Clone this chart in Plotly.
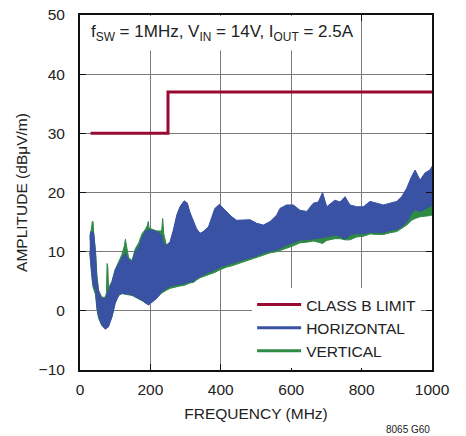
import plotly.graph_objects as go

# ---------------- data ----------------
limit_freq = [30, 250, 250, 1000]
limit_db = [30, 30, 37, 37]

horiz_freq = [28, 30, 34, 37, 39, 44, 48, 53, 62, 72, 81, 91, 100, 110, 119, 129, 138, 148, 157, 167,
              176, 186, 195, 218, 232, 237, 246, 256, 265, 275, 284, 296, 305, 312, 322, 331, 341, 350,
              365, 374, 383, 396, 407, 417, 431, 445, 464, 483, 502, 521, 540, 559, 568, 587, 606, 625,
              644, 663, 677, 689, 701, 724, 739, 753, 767, 786, 805, 824, 843, 862, 881, 900, 914, 928,
              942, 952, 966, 980, 994, 1000]
horiz_upper = [12.5, 13.4, 13.1, 13.4, 13.1, 9.7, 5.2, 3.0, 2.1, 2.1, 3.5, 4.9, 6.9, 8.0, 8.9, 9.7, 8.6,
               8.3, 10.0, 10.8, 12.3, 13.5, 13.7, 13.4, 12.8, 11.4, 11.1, 11.7, 13.6, 16.2, 17.6, 18.6,
               18.2, 16.7, 15.3, 13.9, 13.1, 13.4, 14.2, 15.6, 17.3, 18.0, 17.3, 16.7, 15.9, 15.3, 15.4,
               15.4, 14.8, 14.5, 15.1, 16.2, 17.3, 17.9, 17.9, 17.0, 16.8, 18.2, 18.4, 20.0, 17.6, 18.7,
               18.4, 19.3, 17.9, 17.6, 17.6, 18.5, 18.2, 17.9, 18.2, 18.5, 19.3, 20.7, 22.7, 23.8, 22.1,
               23.3, 23.8, 24.4]
horiz_lower = [10.0, 8.6, 5.8, 4.5, 4.1, 3.5, 0.7, -1.0, -2.4, -3.1, -2.7, -1.0, 1.3, 2.7, 3.0, 2.9, 2.8,
               2.7, 2.5, 2.1, 1.8, 1.3, 1.0, 2.1, 3.2, 3.5, 3.8, 4.1, 4.3, 4.4, 4.5, 4.6, 4.8, 4.9, 5.0,
               5.5, 5.9, 6.1, 6.5, 6.7, 6.9, 7.3, 7.6, 7.8, 8.0, 8.3, 8.7, 9.0, 9.3, 9.8, 10.1, 10.3,
               10.6, 11.1, 11.6, 12.0, 12.0, 12.2, 12.3, 12.4, 12.5, 12.8, 12.6, 12.1, 12.8, 13.1, 13.0,
               13.3, 13.2, 13.2, 13.6, 13.8, 14.2, 15.0, 16.5, 17.1, 16.8, 17.2, 17.6, 17.8]

vert_freq = [28, 30, 33, 35, 37, 39, 44, 48, 53, 62, 72, 75, 77, 79, 81, 91, 100, 110, 119, 126, 129, 132,
             138, 148, 157, 167, 176, 186, 192, 194, 196, 218, 232, 235, 238, 246, 256, 265, 275, 284,
             296, 305, 312, 322, 331, 341, 350, 365, 374, 383, 396, 407, 417, 431, 445, 464, 483, 502,
             521, 540, 559, 568, 587, 606, 625, 644, 663, 677, 689, 701, 724, 739, 753, 767, 786, 805,
             824, 843, 862, 881, 900, 914, 928, 942, 952, 966, 980, 994, 1000]
vert_upper = [12.0, 13.0, 14.5, 15.1, 15.1, 13.0, 10.2, 6.0, 3.5, 2.3, 2.3, 3.0, 8.0, 7.5, 3.8, 5.0, 7.0,
              8.2, 9.5, 11.0, 12.1, 11.0, 9.0, 8.5, 10.5, 11.5, 13.0, 13.8, 14.5, 15.1, 14.0, 13.5, 13.5,
              15.6, 13.0, 11.0, 11.5, 13.3, 15.8, 17.2, 18.2, 17.8, 16.4, 14.5, 13.3, 12.8, 13.0, 13.9,
              15.2, 17.0, 17.6, 17.0, 16.4, 15.6, 15.0, 15.0, 15.0, 14.5, 14.2, 14.8, 15.8, 16.8, 17.4,
              17.4, 16.6, 16.4, 17.6, 17.8, 18.8, 17.2, 18.2, 18.0, 18.6, 17.5, 17.2, 17.2, 17.8, 17.6,
              17.4, 17.6, 17.8, 18.2, 18.5, 18.8, 19.0, 18.6, 18.8, 19.2, 19.5]
vert_lower = [9.8, 8.2, 6.0, 5.0, 4.0, 3.6, 2.8, 0.3, -1.3, -2.5, -3.0, -2.9, -2.8, -2.8, -2.6, -0.9, 1.4,
              2.6, 2.9, 2.8, 2.8, 2.8, 2.7, 2.6, 2.4, 2.0, 1.7, 1.4, 1.2, 1.2, 1.2, 2.2, 3.0, 3.1, 3.2,
              3.5, 3.8, 4.0, 4.1, 4.2, 4.3, 4.5, 4.7, 4.8, 5.2, 5.6, 5.8, 6.1, 6.3, 6.5, 6.9, 7.2, 7.4,
              7.6, 7.9, 8.3, 8.7, 9.0, 9.4, 9.8, 10.0, 10.2, 10.6, 11.0, 11.5, 11.6, 11.8, 11.6, 11.4,
              11.9, 12.2, 12.2, 12.0, 12.0, 12.5, 12.6, 13.0, 12.9, 12.9, 13.2, 13.4, 13.9, 14.5, 15.3,
              15.6, 15.9, 16.0, 16.1, 16.2]

x_ticks = [0, 200, 400, 600, 800, 1000]
y_ticks = [-10, 0, 10, 20, 30, 40, 50]
y_tick_text = ["\u221210", "0", "10", "20", "30", "40", "50"]

RED = "#990a33"
BLUE = "#3a52a3"
GREEN = "#2f8a45"
FONT = "Liberation Sans, Arial, Helvetica, sans-serif"
FS = 15.5

fig = go.Figure()

# VERTICAL band (drawn first, underneath)
fig.add_trace(go.Scatter(
    x=vert_freq + vert_freq[::-1], y=vert_upper + vert_lower[::-1],
    fill="toself", fillcolor=GREEN, mode="lines", line=dict(color=GREEN, width=1),
    showlegend=False, hoverinfo="skip"))
# HORIZONTAL band
fig.add_trace(go.Scatter(
    x=horiz_freq + horiz_freq[::-1], y=horiz_upper + horiz_lower[::-1],
    fill="toself", fillcolor=BLUE, mode="lines", line=dict(color=BLUE, width=1),
    showlegend=False, hoverinfo="skip"))
# limit line
fig.add_trace(go.Scatter(x=limit_freq, y=limit_db, mode="lines",
                         line=dict(color=RED, width=3), name="CLASS B LIMIT",
                         legendrank=1))
# legend entries for the bands
fig.add_trace(go.Scatter(x=[None], y=[None], mode="lines", line=dict(color=BLUE, width=3),
                         name="HORIZONTAL", legendrank=2))
fig.add_trace(go.Scatter(x=[None], y=[None], mode="lines", line=dict(color=GREEN, width=3),
                         name="VERTICAL", legendrank=3))

axis_common = dict(showline=True, linecolor="#111", linewidth=2, mirror="ticks",
                   ticks="inside", ticklen=6, tickcolor="#111", tickwidth=1,
                   showgrid=True, gridcolor="#7a7a7a", gridwidth=1.4, zeroline=False,
                   automargin=False, ticklabeloverflow="allow",
                   tickfont=dict(family=FONT, size=FS, color="#222"))

fig.update_xaxes(range=[0, 1000], tickvals=x_ticks, ticktext=[str(v) for v in x_ticks],
                 ticklabelstandoff=4,
                 title=dict(text="FREQUENCY (MHz)", font=dict(family=FONT, size=FS, color="#222"),
                            standoff=12), **axis_common)
fig.update_yaxes(range=[-10, 50], tickvals=y_ticks, ticktext=y_tick_text,
                 ticklabelstandoff=10,
                 title=dict(text="AMPLITUDE (dB\u03bcV/m)", font=dict(family=FONT, size=FS, color="#222"),
                            standoff=7), **axis_common)

fig.add_annotation(text="f<sub>SW</sub> = 1MHz, V<sub>IN</sub> = 14V, I<sub>OUT</sub> = 2.5A",
                   xref="paper", yref="paper", x=0.0, y=1.0, xanchor="left", yanchor="top",
                   xshift=4, showarrow=False, bgcolor="white", borderpad=6,
                   font=dict(family=FONT, size=17, color="#222"))
fig.add_annotation(text="8065 G60", xref="paper", yref="paper", x=1.0, y=-0.169,
                   xanchor="right", yanchor="middle", showarrow=False,
                   font=dict(family=FONT, size=10, color="#222"))

fig.update_layout(
    width=466, height=436,
    margin=dict(l=80, r=34, t=15, b=66),
    paper_bgcolor="white", plot_bgcolor="white",
    legend=dict(x=0.489, y=0.231, xanchor="left", yanchor="top", bgcolor="white",
                font=dict(family=FONT, size=FS, color="#222"), itemwidth=44,
                tracegroupgap=0),
    font=dict(family=FONT, size=FS, color="#222"),
)

fig.write_html("out.html", config={"displayModeBar": False},
               post_script="document.body.style.margin='0';")
